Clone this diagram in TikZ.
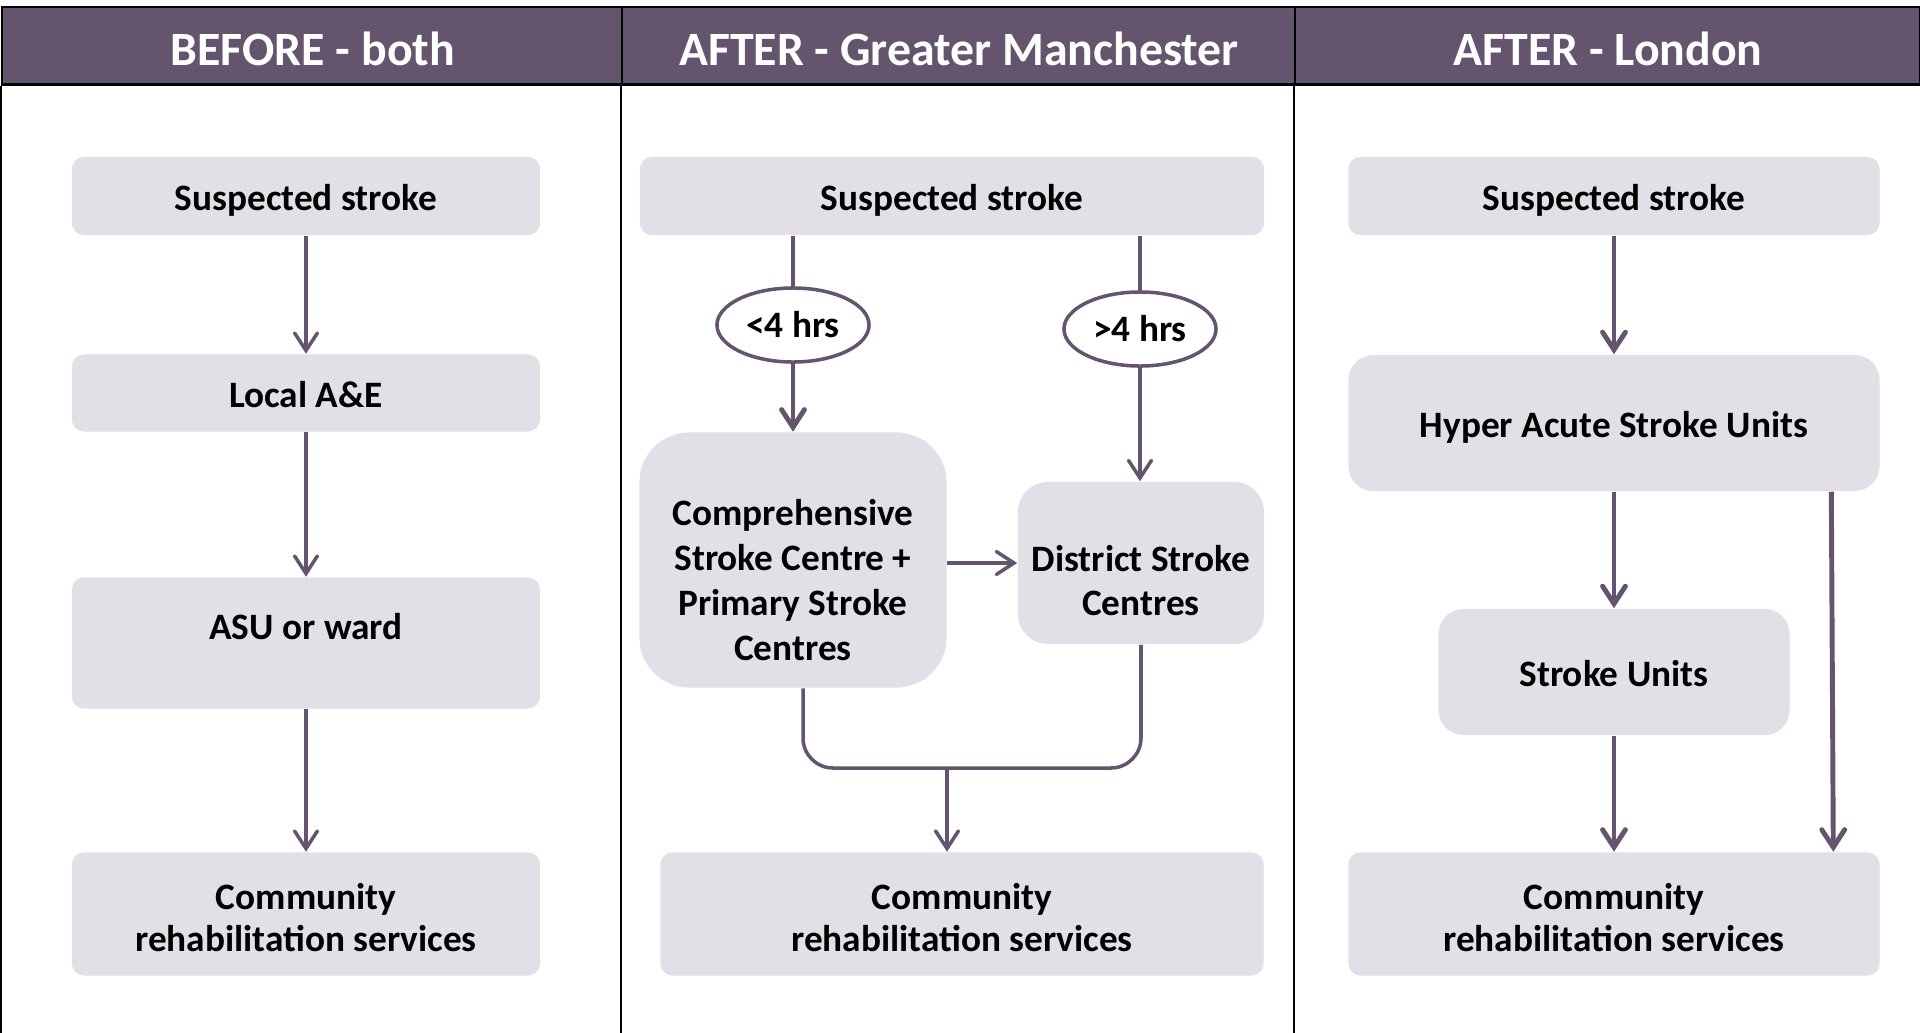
\documentclass[tikz,border=0pt]{standalone}
\usepackage{fontspec}
\setmainfont{Carlito}
\usetikzlibrary{arrows.meta, positioning, calc, shapes.geometric}
\definecolor{plum}{RGB}{100,84,110}
\definecolor{lilac}{RGB}{227,223,230}

\begin{document}
\begin{tikzpicture}[
    x=0.01cm, y=-0.01cm,
    hdr/.style={draw=black,line width=0.7pt,fill=plum,text=white,
                anchor=north west,minimum height=0.77cm,inner sep=0pt,
                text height=11.5pt,text depth=0pt,
                font=\fontsize{13.6}{15}\selectfont\bfseries},
    box/.style={fill=lilac,rounded corners=0.12cm,
                align=center,inner sep=2pt,
                text height=8.5pt,text depth=0pt,
                font=\fontsize{10.6}{12.6}\selectfont\bfseries},
    rehab/.style={box,text height=21.5pt,
                  font=\fontsize{10.6}{11.9}\selectfont\bfseries},
    oval/.style={ellipse,draw=plum,line width=1pt,fill=white,
                 minimum width=1.52cm,minimum height=0.74cm,inner sep=0pt,
                 font=\fontsize{10.6}{12.6}\selectfont\bfseries},
    frame/.style={draw=black,line width=0.7pt},
    ln/.style={plum,line width=1pt},
    arr/.style={ln,-{Straight Barb[length=5pt,width=6.5pt,line cap=round]}},
    tarr/.style={arr,line width=1.4pt}
  ]
    \useasboundingbox (0,0) rectangle (1920,1033);

    %% Header row ─────────────────────────────
    \node[hdr, minimum width=6.21cm] (h1) at (1,6)   {BEFORE - both};
    \node[hdr, minimum width=6.73cm] (h2) at (621,6) {AFTER - Greater Manchester};
    \node[hdr, minimum width=6.25cm] (h3) at (1294,6){AFTER - London};
    \draw[frame] (h1.south west) -- (h1.south west |- 0,1040);
    \draw[frame] (h2.south west) -- (h2.south west |- 0,1040);
    \draw[frame] (h3.south west) -- (h3.south west |- 0,1040);
    \draw[frame] (h3.south east) -- (h3.south east |- 0,1040);

    %% Before ─────────────────────────────────
    \node[box, minimum width=4.68cm, minimum height=0.78cm] (ss1) at (306,196) {Suspected stroke};
    \node[box, minimum width=4.68cm, minimum height=0.77cm] (ae1) at (306,393) {Local A\&E};
    \node[box, minimum width=4.68cm, minimum height=1.31cm, text depth=10.5pt]
          (asu1) at (306,643) {ASU or ward};
    \node[rehab, minimum width=4.68cm, minimum height=1.23cm] (cr1) at (306,914)
          {Community\\rehabilitation services};
    \draw[arr] (ss1) -- (ae1);
    \draw[arr] (ae1) -- (asu1);
    \draw[arr] (asu1) -- (cr1);

    %% Greater Manchester ─────────────────────
    \node[box, minimum width=6.24cm, minimum height=0.78cm] (ss2) at (952,196) {Suspected stroke};
    \node[oval] (lt) at (793,325) {<4 hrs};
    \node[oval] (gt) at (1140,329) {>4 hrs};
    \node[box, rounded corners=0.5cm, minimum width=3.07cm, minimum height=2.55cm,
          text height=57pt, font=\fontsize{10.6}{12.8}\selectfont\bfseries]
          (csc) at (793,560) {Comprehensive\\Stroke Centre +\\Primary Stroke\\Centres};
    \node[box, rounded corners=0.3cm, minimum width=2.46cm, minimum height=1.62cm,
          text height=30pt]
          (dsc) at (1141,563) {District Stroke\\Centres};
    \node[rehab, minimum width=6.03cm, minimum height=1.23cm] (cr2) at (962,914)
          {Community\\rehabilitation services};
    \coordinate (join) at (947,768);

    \draw[ln] (ss2.south -| lt) -- (lt);
    \draw[tarr] (lt) -- (csc);
    \draw[ln] (ss2.south -| gt) -- (gt);
    \draw[arr] (gt.south) -- (gt.south |- dsc.north);
    \draw[arr] (csc.east |- dsc) -- (dsc.west);
    \draw[ln, rounded corners=0.3cm] ([xshift=0.1cm]csc.south) |- (join)
          -| (dsc.south);
    \draw[arr] (join) -- (join |- cr2.north);

    %% London ─────────────────────────────────
    \node[box, minimum width=5.31cm, minimum height=0.78cm] (ss3) at (1614,196) {Suspected stroke};
    \node[box, rounded corners=0.25cm, minimum width=5.31cm, minimum height=1.36cm]
          (hasu) at (1614,423) {Hyper Acute Stroke Units};
    \node[box, rounded corners=0.25cm, minimum width=3.51cm, minimum height=1.26cm]
          (su) at (1614,672) {Stroke Units};
    \node[rehab, minimum width=5.31cm, minimum height=1.23cm] (cr3) at (1614,914)
          {Community\\rehabilitation services};
    \draw[tarr] (ss3) -- (hasu);
    \draw[tarr] (hasu) -- (su);
    \draw[tarr] (su) -- (cr3);
    \draw[tarr] ([xshift=-0.49cm]hasu.south east) -- ([xshift=-0.47cm]hasu.south east |- cr3.north);

  \end{tikzpicture}
\end{document}
